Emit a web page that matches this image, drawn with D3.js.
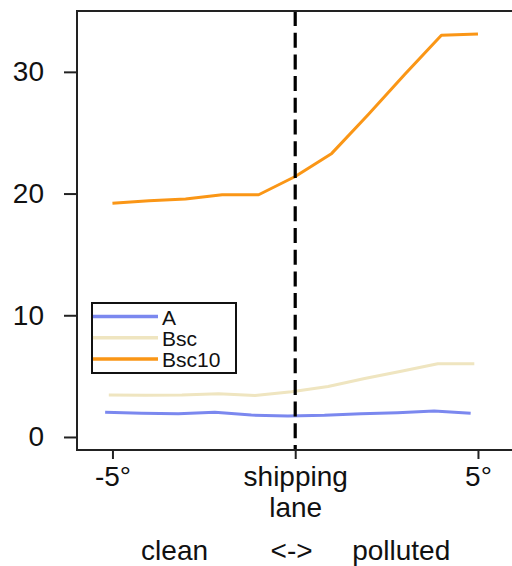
<!DOCTYPE html>
<html>
<head>
<meta charset="utf-8">
<script src="https://cdn.jsdelivr.net/npm/d3@7"></script>
<style>
  html, body { margin: 0; padding: 0; background: #fff; }
  text { font-family: "Liberation Sans", Arial, Helvetica, sans-serif; }
</style>
</head>
<body>
<svg id="chart" width="512" height="566"></svg>
<script>
// ---- data ----
const degrees = [-5, -4, -3, -2, -1, 0, 1, 2, 3, 4, 5];
const seriesNames = ["A", "Bsc", "Bsc10"];
const valuesA     = [2.03, 1.95, 1.90, 2.03, 1.80, 1.73, 1.78, 1.90, 2.00, 2.14, 1.95];
const valuesBsc   = [3.45, 3.42, 3.45, 3.55, 3.40, 3.72, 4.15, 4.80, 5.40, 6.02, 6.02];
const valuesBsc10 = [19.2, 19.4, 19.55, 19.9, 19.9, 21.4, 23.3, 26.5, 29.8, 33.0, 33.1];
const seriesOffsets = [-0.2, -0.1, 0];   // small horizontal dodge between series
const seriesColors = ["#7b88ef", "#efe5c0", "#fa9616"];
const yTicks = [0, 10, 20, 30];
const xTicks = [-5, 0, 5];
const xTickLabels = [["-5°"], ["shipping", "lane"], ["5°"]];
const bottomLabels = ["clean", "<->", "polluted"];
const bottomLabelPos = [-3.3, -0.1, 2.9];

(function () {
// ---- layout ----
const svg = d3.select("#chart");
const mLeft = 77, mRight = 520, mTop = 11, mBottom = 450;
const x = d3.scaleLinear().domain([-5.97, 6.15]).range([mLeft, mRight]);
const y = d3.scaleLinear().domain([-1.07, 35.0]).range([mBottom, mTop]);
const fontSize = 28;

const allSeries = [valuesA, valuesBsc, valuesBsc10];

const line = d3.line()
  .x(d => x(d.x))
  .y(d => y(d.v));

allSeries.forEach((vals, i) => {
  const pts = degrees.map((dg, j) => ({ x: dg + seriesOffsets[i], v: vals[j] }));
  svg.append("path")
    .datum(pts)
    .attr("fill", "none")
    .attr("stroke", seriesColors[i])
    .attr("stroke-width", 3)
    .attr("stroke-linejoin", "round")
    .attr("d", line);
});

// dashed shipping-lane line
svg.append("line")
  .attr("x1", x(0)).attr("x2", x(0))
  .attr("y1", mTop).attr("y2", mBottom)
  .attr("stroke", "#000")
  .attr("stroke-width", 3.2)
  .attr("stroke-dasharray", "15,6.7");

// frame
svg.append("rect")
  .attr("x", mLeft).attr("y", mTop)
  .attr("width", mRight - mLeft).attr("height", mBottom - mTop)
  .attr("fill", "none")
  .attr("stroke", "#222")
  .attr("stroke-width", 2);

// y axis
const yAxis = svg.append("g")
  .attr("transform", `translate(${mLeft},0)`)
  .call(d3.axisLeft(y).tickValues(yTicks).tickSize(13).tickPadding(20).tickFormat(d3.format("d")));
yAxis.select(".domain").remove();
yAxis.selectAll(".tick line").attr("stroke", "#222").attr("stroke-width", 2);
yAxis.selectAll(".tick text")
  .attr("font-size", fontSize)
  .attr("font-family", "'Liberation Sans', Arial, sans-serif")
  .attr("fill", "#111");

// x axis
const xAxis = svg.append("g")
  .attr("transform", `translate(0,${mBottom})`)
  .call(d3.axisBottom(x).tickValues(xTicks).tickSize(9).tickFormat(""));
xAxis.select(".domain").remove();
xAxis.selectAll(".tick line").attr("stroke", "#222").attr("stroke-width", 2);
xAxis.selectAll(".tick").each(function(d, i) {
  const t = d3.select(this).append("text")
    .attr("fill", "#111")
    .attr("font-size", fontSize)
    .attr("font-family", "'Liberation Sans', Arial, sans-serif")
    .attr("text-anchor", "middle")
    .attr("y", 36);
  xTickLabels[i].forEach((s, k) => {
    t.append("tspan").attr("x", 0).attr("dy", k === 0 ? 0 : 31).text(s);
  });
});

// bottom caption
svg.selectAll("text.caption")
  .data(bottomLabels)
  .enter().append("text")
  .attr("class", "caption")
  .attr("x", (d, i) => x(bottomLabelPos[i]))
  .attr("y", 560)
  .attr("text-anchor", "middle")
  .attr("font-size", fontSize)
  .attr("fill", "#111")
  .text(d => d);

// legend
const lg = svg.append("g");
lg.append("rect")
  .attr("x", 92).attr("y", 303)
  .attr("width", 144).attr("height", 70)
  .attr("fill", "#fff")
  .attr("stroke", "#111")
  .attr("stroke-width", 2);
seriesNames.forEach((name, i) => {
  const ly = 316.5 + i * 21.3;
  lg.append("line")
    .attr("x1", 93).attr("x2", 158)
    .attr("y1", ly).attr("y2", ly)
    .attr("stroke", seriesColors[i])
    .attr("stroke-width", 3.5);
  lg.append("text")
    .attr("x", 162).attr("y", ly + 8)
    .attr("font-size", 21)
    .attr("fill", "#111")
    .text(name);
});
})();
</script>
</body>
</html>
